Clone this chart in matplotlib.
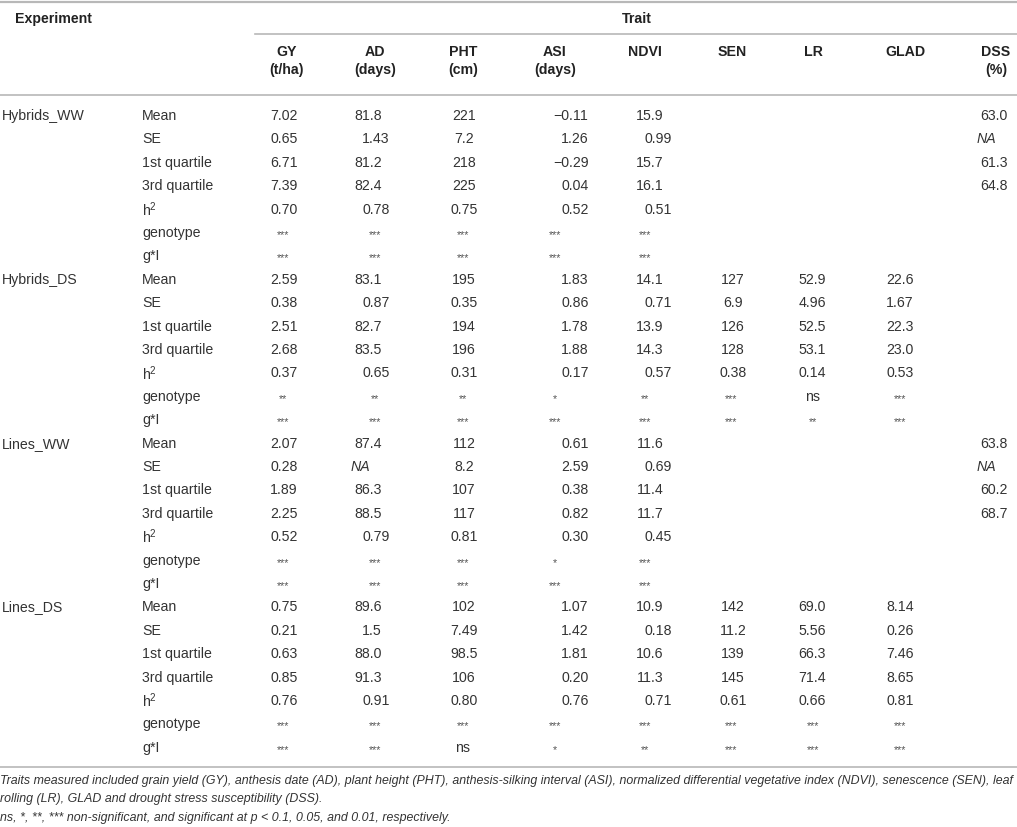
import matplotlib
matplotlib.use("Agg")
import matplotlib.pyplot as plt
from matplotlib.font_manager import FontProperties

plt.rcParams['font.family'] = ['Liberation Sans', 'DejaVu Sans']
plt.rcParams['mathtext.fontset'] = 'custom'
plt.rcParams['mathtext.rm'] = 'Liberation Sans'
plt.rcParams['mathtext.it'] = 'Liberation Sans:italic'

# ---- data ----
traits = ["GY", "AD", "PHT", "ASI", "NDVI", "SEN", "LR", "GLAD", "DSS"]
units = ["(t/ha)", "(days)", "(cm)", "(days)", "", "", "", "", "(%)"]
stats = ["Mean", "SE", "1st quartile", "3rd quartile", "h$^{2}$", "genotype", "g*I"]
experiments = ["Hybrids_WW", "Hybrids_DS", "Lines_WW", "Lines_DS"]

hybrids_ww = [
    ["7.02", "81.8", "221", "−0.11", "15.9", "", "", "", "63.0"],
    ["0.65", "1.43", "7.2", "1.26", "0.99", "", "", "", "NA"],
    ["6.71", "81.2", "218", "−0.29", "15.7", "", "", "", "61.3"],
    ["7.39", "82.4", "225", "0.04", "16.1", "", "", "", "64.8"],
    ["0.70", "0.78", "0.75", "0.52", "0.51", "", "", "", ""],
    ["***", "***", "***", "***", "***", "", "", "", ""],
    ["***", "***", "***", "***", "***", "", "", "", ""],
]
hybrids_ds = [
    ["2.59", "83.1", "195", "1.83", "14.1", "127", "52.9", "22.6", ""],
    ["0.38", "0.87", "0.35", "0.86", "0.71", "6.9", "4.96", "1.67", ""],
    ["2.51", "82.7", "194", "1.78", "13.9", "126", "52.5", "22.3", ""],
    ["2.68", "83.5", "196", "1.88", "14.3", "128", "53.1", "23.0", ""],
    ["0.37", "0.65", "0.31", "0.17", "0.57", "0.38", "0.14", "0.53", ""],
    ["**", "**", "**", "*", "**", "***", "ns", "***", ""],
    ["***", "***", "***", "***", "***", "***", "**", "***", ""],
]
lines_ww = [
    ["2.07", "87.4", "112", "0.61", "11.6", "", "", "", "63.8"],
    ["0.28", "NA", "8.2", "2.59", "0.69", "", "", "", "NA"],
    ["1.89", "86.3", "107", "0.38", "11.4", "", "", "", "60.2"],
    ["2.25", "88.5", "117", "0.82", "11.7", "", "", "", "68.7"],
    ["0.52", "0.79", "0.81", "0.30", "0.45", "", "", "", ""],
    ["***", "***", "***", "*", "***", "", "", "", ""],
    ["***", "***", "***", "***", "***", "", "", "", ""],
]
lines_ds = [
    ["0.75", "89.6", "102", "1.07", "10.9", "142", "69.0", "8.14", ""],
    ["0.21", "1.5", "7.49", "1.42", "0.18", "11.2", "5.56", "0.26", ""],
    ["0.63", "88.0", "98.5", "1.81", "10.6", "139", "66.3", "7.46", ""],
    ["0.85", "91.3", "106", "0.20", "11.3", "145", "71.4", "8.65", ""],
    ["0.76", "0.91", "0.80", "0.76", "0.71", "0.61", "0.66", "0.81", ""],
    ["***", "***", "***", "***", "***", "***", "***", "***", ""],
    ["***", "***", "ns", "*", "**", "***", "***", "***", ""],
]
blocks = [hybrids_ww, hybrids_ds, lines_ww, lines_ds]

footnotes = [
    "Traits measured included grain yield (GY), anthesis date (AD), plant height (PHT), anthesis-silking interval (ASI), "
    "normalized differential vegetative index (NDVI), senescence (SEN), leaf",
    "rolling (LR), GLAD and drought stress susceptibility (DSS).",
    "ns, *, **, *** non-significant, and significant at p < 0.1, 0.05, and 0.01, respectively.",
]

# ---- layout (pixel units) ----
W, H = 1017, 828
head_x = [287, 375, 463, 555, 645, 732, 813, 905, 996]
align = ["dec", "dec", "center", "dec", "dec", "center", "center", "center", "dec"]
val_x = [278, 370, 464, 569, 652, 733, 812, 900, 996]
star_x = [283, 375, 463, 555, 645, 731, 813, 900, 996]
row0, step = 116, 23.4

txt_col = "#333333"
line_col = "#b8b8b8"
fs = 10.2

fig = plt.figure(figsize=(W / 100, H / 100), dpi=100)
ax = fig.add_axes([0, 0, 1, 1])
ax.set_xlim(0, W)
ax.set_ylim(H, 0)
ax.axis("off")
renderer = fig.canvas.get_renderer()

def width(s, prop):
    w, h, d = renderer.get_text_width_height_descent(s, prop, ismath=False)
    return w

# rules
ax.plot([0, W], [3, 3], color=line_col, lw=1.6)
ax.plot([255, W], [35, 35], color=line_col, lw=1.2)
ax.plot([0, W], [96, 96], color=line_col, lw=1.2)
ax.plot([0, W], [768, 768], color=line_col, lw=1.2)

# header
ax.text(15, 19, "Experiment", fontsize=fs, fontweight="bold", color="#222222", va="center")
ax.text(637, 19, "Trait", fontsize=fs, fontweight="bold", color="#222222", va="center", ha="center")
for x, t, u in zip(head_x, traits, units):
    ax.text(x, 52, t, fontsize=fs, fontweight="bold", color="#222222", va="center", ha="center")
    if u:
        ax.text(x, 70, u, fontsize=fs, fontweight="bold", color="#222222", va="center", ha="center")

# body
prop = FontProperties(family="Liberation Sans", size=fs)
prop_it = FontProperties(family="Liberation Sans", size=fs, style="italic")
i = 0
for exp, block in zip(experiments, blocks):
    for s, row in zip(stats, block):
        y = row0 + i * step
        if s == "Mean":
            ax.text(2, y, exp, fontsize=fs, color=txt_col, va="center")
        ax.text(142, y, s, fontsize=fs, color=txt_col, va="center")
        for j, v in enumerate(row):
            if not v:
                continue
            if "*" in v or v == "ns":
                if v == "ns":
                    ax.text(star_x[j], y, v, fontsize=fs, color=txt_col, va="center", ha="center")
                else:
                    ax.text(star_x[j], y + 2, v, fontsize=7.8, color="#555555", va="center", ha="center")
                continue
            italic = v == "NA"
            p = prop_it if italic else prop
            if align[j] == "dec":
                ip = v.split(".")[0]
                x0 = val_x[j] - width(ip, p)
                ax.text(x0, y, v, fontproperties=p, color=txt_col, va="center", ha="left")
            else:
                ax.text(val_x[j], y, v, fontproperties=p, color=txt_col, va="center", ha="center")
        i += 1

# footnotes: size chosen so the first line spans the table width
fp = FontProperties(family="Liberation Sans", size=9.0, style="italic")
fn_size = 9.0 * 1010 / width(footnotes[0], fp)
for k, t in enumerate(footnotes):
    ax.text(0, 781 + k * 18.5, t, fontsize=fn_size, style="italic", color=txt_col, va="center")

fig.savefig("out.png", dpi=100)
